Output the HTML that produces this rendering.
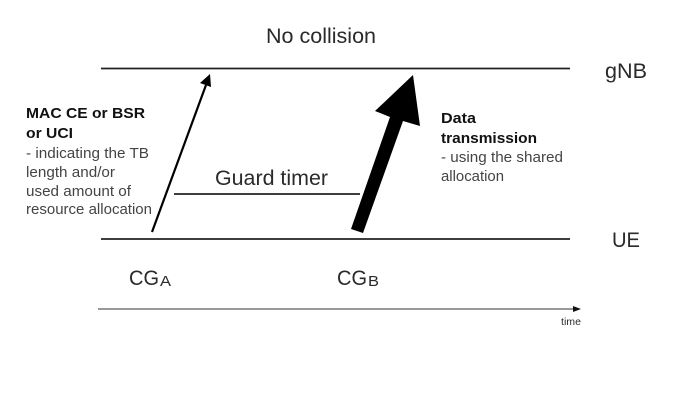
<!DOCTYPE html>
<html>
<head>
<meta charset="utf-8">
<style>
html,body{margin:0;padding:0;background:#fff;width:676px;height:420px;overflow:hidden}
svg{display:block}
text{font-family:"Liberation Sans",sans-serif;fill:#2a2a2a}
.b{font-weight:bold;font-size:15px;fill:#111}
.s{font-size:15px;fill:#444}
.l{font-size:21.5px;fill:#2a2a2a}
</style>
</head>
<body>
<svg width="676" height="420" viewBox="0 0 676 420" xmlns="http://www.w3.org/2000/svg">
<rect width="676" height="420" fill="#fff"/>
<line x1="101" y1="68.5" x2="570" y2="68.5" stroke="#222" stroke-width="1.8"/>
<line x1="101" y1="239" x2="570" y2="239" stroke="#222" stroke-width="1.8"/>
<line x1="174" y1="194" x2="360" y2="194" stroke="#222" stroke-width="1.8"/>
<line x1="98" y1="309" x2="574" y2="309" stroke="#333" stroke-width="1"/>
<polygon points="581,309 573,306 573,312" fill="#111"/>
<line x1="152" y1="232" x2="206" y2="85" stroke="#000" stroke-width="2.2"/>
<polygon points="210,74 200,83 211,87" fill="#000"/>
<polygon points="351,229 363,233 403,121 420,126 413,75 375,111 390,117" fill="#000"/>
<text class="l" x="266" y="43" textLength="110" lengthAdjust="spacingAndGlyphs">No collision</text>
<text class="l" x="605" y="78" textLength="42" lengthAdjust="spacingAndGlyphs">gNB</text>
<text class="l" x="612" y="247" textLength="28" lengthAdjust="spacingAndGlyphs">UE</text>
<text class="l" x="215" y="185" textLength="113" lengthAdjust="spacingAndGlyphs">Guard timer</text>
<text class="l" x="129" y="285" textLength="30" lengthAdjust="spacingAndGlyphs">CG</text>
<text x="160" y="286" font-size="14.5" fill="#333" textLength="11" lengthAdjust="spacingAndGlyphs">A</text>
<text class="l" x="337" y="285" textLength="30" lengthAdjust="spacingAndGlyphs">CG</text>
<text x="368" y="286" font-size="14.5" fill="#333" textLength="11" lengthAdjust="spacingAndGlyphs">B</text>
<text x="561" y="325" font-size="10" fill="#333" textLength="20" lengthAdjust="spacingAndGlyphs">time</text>
<text class="b" x="26" y="118" textLength="119" lengthAdjust="spacingAndGlyphs">MAC CE or BSR</text>
<text class="b" x="26" y="138" textLength="47" lengthAdjust="spacingAndGlyphs">or UCI</text>
<text class="s" x="26" y="158" textLength="123" lengthAdjust="spacingAndGlyphs">- indicating the TB</text>
<text class="s" x="26" y="177" textLength="89" lengthAdjust="spacingAndGlyphs">length and/or</text>
<text class="s" x="26" y="196" textLength="105" lengthAdjust="spacingAndGlyphs">used amount of</text>
<text class="s" x="26" y="214" textLength="126" lengthAdjust="spacingAndGlyphs">resource allocation</text>
<text class="b" x="441" y="123" textLength="35" lengthAdjust="spacingAndGlyphs">Data</text>
<text class="b" x="441" y="143" textLength="96" lengthAdjust="spacingAndGlyphs">transmission</text>
<text class="s" x="441" y="162" textLength="122" lengthAdjust="spacingAndGlyphs">- using the shared</text>
<text class="s" x="441" y="181" textLength="63" lengthAdjust="spacingAndGlyphs">allocation</text>
</svg>
</body>
</html>
